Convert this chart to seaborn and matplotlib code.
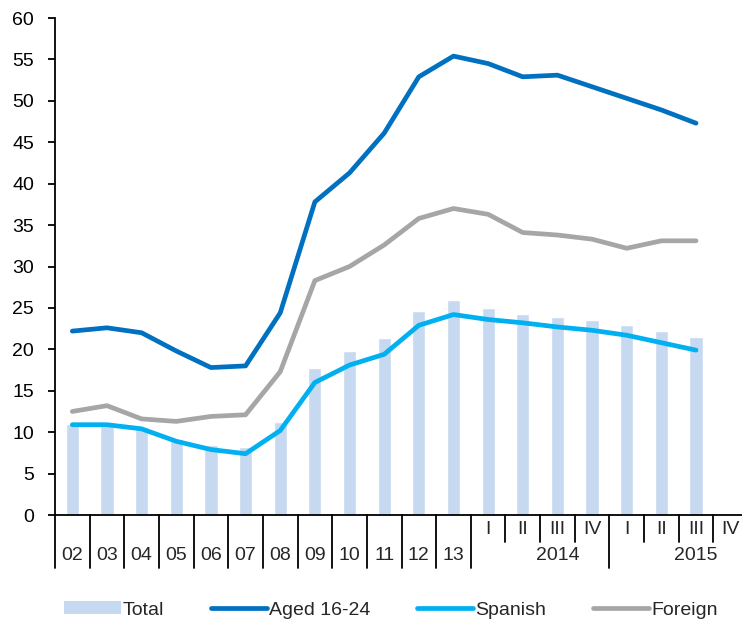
import numpy as np
import pandas as pd
import matplotlib
matplotlib.use("Agg")
import matplotlib.pyplot as plt
import matplotlib.transforms as mtransforms
from matplotlib.patches import Patch
from matplotlib.lines import Line2D
import seaborn as sns

# Unemployment rates (%), annual 2002-2013 then quarterly 2014-2015
periods = ["02", "03", "04", "05", "06", "07", "08", "09", "10", "11", "12", "13",
           "2014 I", "2014 II", "2014 III", "2014 IV",
           "2015 I", "2015 II", "2015 III"]
total = [11.0, 11.0, 10.6, 9.2, 8.4, 8.2, 11.2, 17.7, 19.8, 21.4, 24.6, 26.0,
         25.0, 24.3, 23.9, 23.6, 22.9, 22.2, 21.5]
aged_16_24 = [22.2, 22.6, 22.0, 19.8, 17.8, 18.0, 24.4, 37.8, 41.3, 46.1, 52.9, 55.4,
              54.5, 52.9, 53.1, 51.7, 50.3, 48.9, 47.3]
spanish = [10.9, 10.9, 10.4, 8.9, 7.9, 7.4, 10.2, 16.0, 18.1, 19.4, 22.9, 24.2,
           23.6, 23.2, 22.7, 22.3, 21.7, 20.8, 19.9]
foreign = [12.5, 13.2, 11.6, 11.3, 11.9, 12.1, 17.3, 28.3, 30.0, 32.6, 35.8, 37.0,
           36.3, 34.1, 33.8, 33.3, 32.2, 33.1, 33.1]

# Axis labels: years for 2002-2013, then quarters grouped under their year
year_labels = ["02", "03", "04", "05", "06", "07", "08", "09", "10", "11", "12", "13"]
quarter_labels = ["I", "II", "III", "IV", "I", "II", "III", "IV"]
group_labels = ["2014", "2015"]

C_TOTAL = "#C6D9F1"
C_AGED = "#0070C0"
C_SPAN = "#00B0F0"
C_FOR = "#A6A6A6"

sns.set_style("white")
plt.rcParams["font.family"] = ["Liberation Sans", "DejaVu Sans"]

df = pd.DataFrame({"period": periods, "pos": np.arange(len(periods)),
                   "Total": total, "Aged 16-24": aged_16_24,
                   "Spanish": spanish, "Foreign": foreign})

W, H = 742, 624
fig = plt.figure(figsize=(W / 100, H / 100), dpi=100)
left_px, right_px, top_px, bottom_px = 55, 742, 18, 515
ax = fig.add_axes([left_px / W, (H - bottom_px) / H,
                   (right_px - left_px) / W, (bottom_px - top_px) / H])

sns.barplot(data=df, x="period", y="Total", order=periods, color=C_TOTAL,
            width=0.38, saturation=1, ax=ax)
for col, c in [("Aged 16-24", C_AGED), ("Spanish", C_SPAN), ("Foreign", C_FOR)]:
    sns.lineplot(data=df, x="pos", y=col, color=c, lw=3.4, ax=ax,
                 solid_capstyle="round", solid_joinstyle="round")

slot_px = 34.65
ax.set_xlim(-0.5, -0.5 + (right_px - left_px) / slot_px)
ax.set_ylim(0, 60)
ax.set_yticks(np.arange(0, 61, 5))
ax.set_xticks([])
ax.set_xlabel("")
ax.set_ylabel("")
for s in ["top", "right"]:
    ax.spines[s].set_visible(False)
for s in ["left", "bottom"]:
    ax.spines[s].set_color("black")
    ax.spines[s].set_linewidth(1.3)
ax.tick_params(axis="y", direction="out", length=5, width=1.3, pad=10,
               labelsize=14, colors="black", left=True)

# Two-row category axis drawn below the plot
trans = mtransforms.blended_transform_factory(ax.transData, ax.transAxes)
ax_h = bottom_px - top_px
long_f = -(568 - bottom_px) / ax_h
short_f = -(542 - bottom_px) / ax_h
long_bounds = [i - 0.5 for i in range(13)] + [15.5, 19.5]
short_bounds = [12.5, 13.5, 14.5, 16.5, 17.5, 18.5]
for b in long_bounds:
    ax.plot([b, b], [0, long_f], transform=trans, color="black", lw=1.3, clip_on=False)
for b in short_bounds:
    ax.plot([b, b], [0, short_f], transform=trans, color="black", lw=1.3, clip_on=False)

row1_y = -(530 - bottom_px) / ax_h
row2_y = -(556 - bottom_px) / ax_h
for i, lab in enumerate(year_labels):
    ax.text(i, row2_y, lab, transform=trans, ha="center", va="center", fontsize=14)
for j, lab in enumerate(quarter_labels):
    ax.text(12 + j, row1_y, lab, transform=trans, ha="center", va="center",
            fontsize=14, clip_on=False)
for k, lab in enumerate(group_labels):
    ax.text(14 + 4 * k, row2_y, lab, transform=trans, ha="center", va="center",
            fontsize=14)

handles = [Patch(facecolor=C_TOTAL, edgecolor="none"),
           Line2D([], [], color=C_AGED, lw=3.4, solid_capstyle="round"),
           Line2D([], [], color=C_SPAN, lw=3.4, solid_capstyle="round"),
           Line2D([], [], color=C_FOR, lw=3.4, solid_capstyle="round")]
fig.legend(handles, ["Total", "Aged 16-24", "Spanish", "Foreign"],
           loc="center", bbox_to_anchor=(0.527, 14 / H), ncol=4, frameon=False,
           fontsize=14, handlelength=2.9, handleheight=0.6, handletextpad=0.1,
           columnspacing=2.4)

fig.savefig("out.png", dpi=100)
